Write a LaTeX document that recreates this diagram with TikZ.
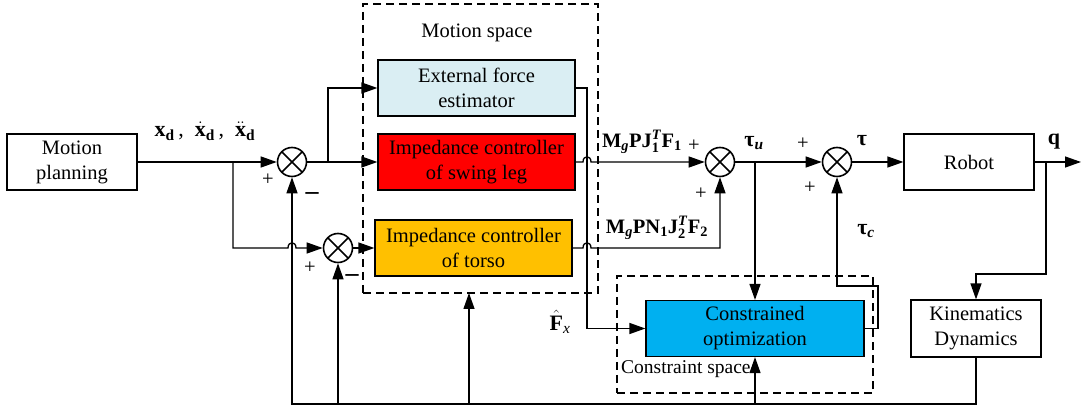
\documentclass[tikz,border=0pt]{standalone}
\usepackage{amsmath}
\usepackage{fontspec}
\setmainfont{Liberation Serif}
\usetikzlibrary{arrows.meta}
\definecolor{efeblue}{HTML}{DAEEF3}
\definecolor{swred}{HTML}{FF0000}
\definecolor{torange}{HTML}{FFC000}
\definecolor{coblue}{HTML}{00B0F0}
\newcommand{\tb}[1]{\text{\textbf{#1}}}
\newcommand{\tbi}[1]{\text{\textbf{\textit{#1}}}}
\newcommand{\ti}[1]{\text{\textit{#1}}}
\begin{document}
\begin{tikzpicture}[x=1pt,y=-1pt,
  every node/.style={font=\fontsize{20.5}{25}\selectfont},
  blk/.style={draw, line width=1.2pt, align=center, inner sep=0pt},
  sumnode/.style={circle, draw, line width=1.6pt, minimum size=29pt, inner sep=0pt,
    path picture={\draw[line width=1.6pt] (path picture bounding box.north west)--(path picture bounding box.south east)
      (path picture bounding box.south west)--(path picture bounding box.north east);}},
  conn/.style={line width=1.3pt},
  arr/.style={conn, -{Triangle[length=16pt,width=11pt]}},
  dashbox/.style={draw, dash pattern=on 8pt off 5pt, line width=1.1pt, inner sep=0pt},
  lbl/.style={inner sep=0pt},
  biglbl/.style={inner sep=0pt, font=\fontsize{22}{26}\selectfont},
  minus/.style={inner sep=0pt, font=\fontsize{26}{26}\selectfont\bfseries}]
\useasboundingbox (0,0) rectangle (1081,411);

% dashed regions
\node[dashbox, minimum width=235pt, minimum height=289pt] (ms) at (480.5,148.5) {};
\node[lbl] (mslbl) at (477,33) {Motion space};
\node[dashbox, minimum width=256pt, minimum height=117pt] (cs) at (745,334.5) {};
\node[lbl, anchor=west, font=\fontsize{19.5}{24}\selectfont] (cslbl) at (621,369) {Constraint space};

% blocks
\node[blk, minimum width=130pt, minimum height=56pt] (mp) at (72,162) {Motion\\planning};
\node[blk, fill=efeblue, minimum width=197pt, minimum height=56pt] (efe) at (476.5,88) {External force\\estimator};
\node[blk, fill=swred, minimum width=197pt, minimum height=56pt] (sw) at (476.5,162) {Impedance controller\\of swing leg};
\node[blk, fill=torange, minimum width=197pt, minimum height=56pt] (to) at (473.5,248) {Impedance controller\\of torso};
\node[blk, minimum width=130pt, minimum height=56pt] (rb) at (969,162) {Robot};
\node[blk, minimum width=130pt, minimum height=57pt] (kd) at (976,328.5) {Kinematics\\Dynamics};
\node[blk, fill=coblue, minimum width=218pt, minimum height=56pt] (co) at (755,328.5) {Constrained\\optimization};

% summing junctions
\node[sumnode] (s1) at (292,162) {};
\node[sumnode] (s2) at (338,248) {};
\node[sumnode] (s3) at (720,162) {};
\node[sumnode] (s4) at (837,162) {};

% junction coordinates
\coordinate (b1) at (233,162);
\coordinate (b2) at (328,162);
\coordinate (fx) at (587,88);
\coordinate (b3) at (755,162);
\coordinate (b4) at (1046,162);
\coordinate (qend) at (1081,162);
\coordinate (kdturn) at (1046,274);
\coordinate (bl) at (976,404);
\coordinate (br) at (292,404);
\coordinate (f2) at (338,404);
\coordinate (f3) at (469,404);
\coordinate (f3t) at (469,293);
\coordinate (f4) at (755,404);
\coordinate (tcr) at (878,328.5);
\coordinate (tct) at (878,286);
\coordinate (tcl) at (837,286);
\coordinate (tcorner) at (720,248);

% connectors
\draw[arr] (mp.east) -- (s1.west);
\draw[arr] (b1) -- (233,248) -- (288,248) .. controls (288,241) and (296,241) .. (296,248) -- (s2.west);
\draw[conn] (s1.east) -- (b2);
\draw[arr] (b2) -- (sw.west);
\draw[arr] (b2) |- (efe.west);
\draw[arr] (s2.east) -- (to.west);
\draw[arr] (efe.east) -- (fx) -- (fx |- co.west) -- (co.west);
\draw[arr] (sw.east) -- (583,162) .. controls (583,155) and (591,155) .. (591,162) -- (s3.west);
\draw[arr] (to.east) -- (583,248) .. controls (583,241) and (591,241) .. (591,248) -- (tcorner) -- (s3.south);
\draw[arr] (s3.east) -- (s4.west);
\draw[arr] (b3) -- (co.north);
\draw[arr] (s4.east) -- (rb.west);
\draw[arr] (rb.east) -- (qend);
\draw[arr] (b4) -- (kdturn) -| (kd.north);
\draw[arr] (kd.south) -- (bl) -- (br) -- (s1.south);
\draw[arr] (f2) -- (s2.south);
\draw[arr] (f3) -- (f3t);
\draw[arr] (f4) -- (co.south);
\draw[arr] (co.east) -- (tcr) -- (tct) -- (tcl) -- (s4.south);

% labels
\node[biglbl] (lxd) at (205,131) {$\tb{x}_{\tb{d}}$\,,\ \ $\dot{\tb{x}}_{\tb{d}}$\,,\ \ $\ddot{\tb{x}}_{\tb{d}}$};
\node[lbl] (lp1) at (268,180) {+};
\node[minus] (lm1) at (312,196) {–};
\node[lbl] (lp2) at (310,268) {+};
\node[minus] (lm2) at (352,278) {–};
\node[lbl] (lf1) at (642,142) {$\tb{M}_{\tbi{g}}\tb{PJ}_{\tb{1}}^{\tbi{T}}\tb{F}_{\tb{1}}$};
\node[lbl] (lp3) at (694,146) {+};
\node[lbl] (lp4) at (701,194) {+};
\node[lbl] (lf2) at (657,228) {$\tb{M}_{\tbi{g}}\tb{PN}_{\tb{1}}\tb{J}_{\tb{2}}^{\tbi{T}}\tb{F}_{\tb{2}}$};
\node[biglbl] (ltu) at (754,143) {\textbf{τ}$_{\tbi{u}}$};
\node[lbl] (lp5) at (803,144) {+};
\node[lbl] (lp6) at (810,188) {+};
\node[biglbl] (ltau) at (862,141) {\textbf{τ}};
\node[biglbl] (ltc) at (866,231) {\textbf{τ}$_{\tbi{c}}$};
\node[biglbl] (lq) at (1054,142) {\textbf{q}};
\node[biglbl] (lfx) at (560,322) {$\hat{\tb{F}}_{\ti{x}}$};
\end{tikzpicture}
\end{document}
